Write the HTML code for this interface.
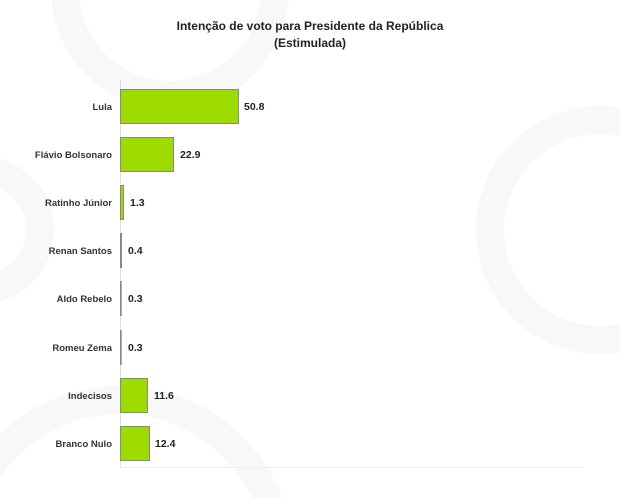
<!DOCTYPE html>
<html><head><meta charset="utf-8"><style>
html,body{margin:0;background:#fff;overflow:hidden;width:620px;height:498px}
svg{display:block;font-family:"Liberation Sans",Arial,sans-serif}
</style></head><body>
<svg width="620" height="498" viewBox="0 0 620 498">
<g fill="none" stroke="#f8f8f8" stroke-width="28">
<circle cx="170" cy="-10" r="105"/>
<circle cx="600" cy="230" r="110"/>
<circle cx="120" cy="560" r="160"/>
<circle cx="-20" cy="230" r="60"/>
</g>
<text x="310" y="30" text-anchor="middle" font-size="12" font-weight="bold" fill="#222">Intenção de voto para Presidente da República</text>
<text x="310" y="47" text-anchor="middle" font-size="12" font-weight="bold" fill="#222">(Estimulada)</text>
<line x1="120.5" y1="80" x2="120.5" y2="467" stroke="#ddd"/>
<line x1="120" y1="467.5" x2="584" y2="467.5" stroke="#eee"/>
<g fill="#9edc00" stroke="#888" stroke-width="1">
<rect x="120.5" y="89.5" width="118" height="34"/>
<rect x="120.5" y="137.5" width="53" height="34"/>
<rect x="120.5" y="185.5" width="3" height="34"/>
<rect x="120.5" y="233.5" width="1" height="34"/>
<rect x="120.5" y="281.5" width="0.7" height="34"/>
<rect x="120.5" y="330.5" width="0.7" height="34"/>
<rect x="120.5" y="378.5" width="27" height="34"/>
<rect x="120.5" y="426.5" width="29" height="34"/>
</g>
<g font-size="9.5" font-weight="bold" fill="#333" text-anchor="end">
<text x="112" y="110">Lula</text>
<text x="112" y="158">Flávio Bolsonaro</text>
<text x="112" y="206">Ratinho Júnior</text>
<text x="112" y="254">Renan Santos</text>
<text x="112" y="302">Aldo Rebelo</text>
<text x="112" y="351">Romeu Zema</text>
<text x="112" y="399">Indecisos</text>
<text x="112" y="447">Branco Nulo</text>
</g>
<g font-size="10.5" font-weight="bold" fill="#222">
<text x="244" y="110">50.8</text>
<text x="180" y="158">22.9</text>
<text x="130" y="206">1.3</text>
<text x="128" y="254">0.4</text>
<text x="128" y="302">0.3</text>
<text x="128" y="351">0.3</text>
<text x="154" y="399">11.6</text>
<text x="155" y="447">12.4</text>
</g>
</svg>
</body></html>
